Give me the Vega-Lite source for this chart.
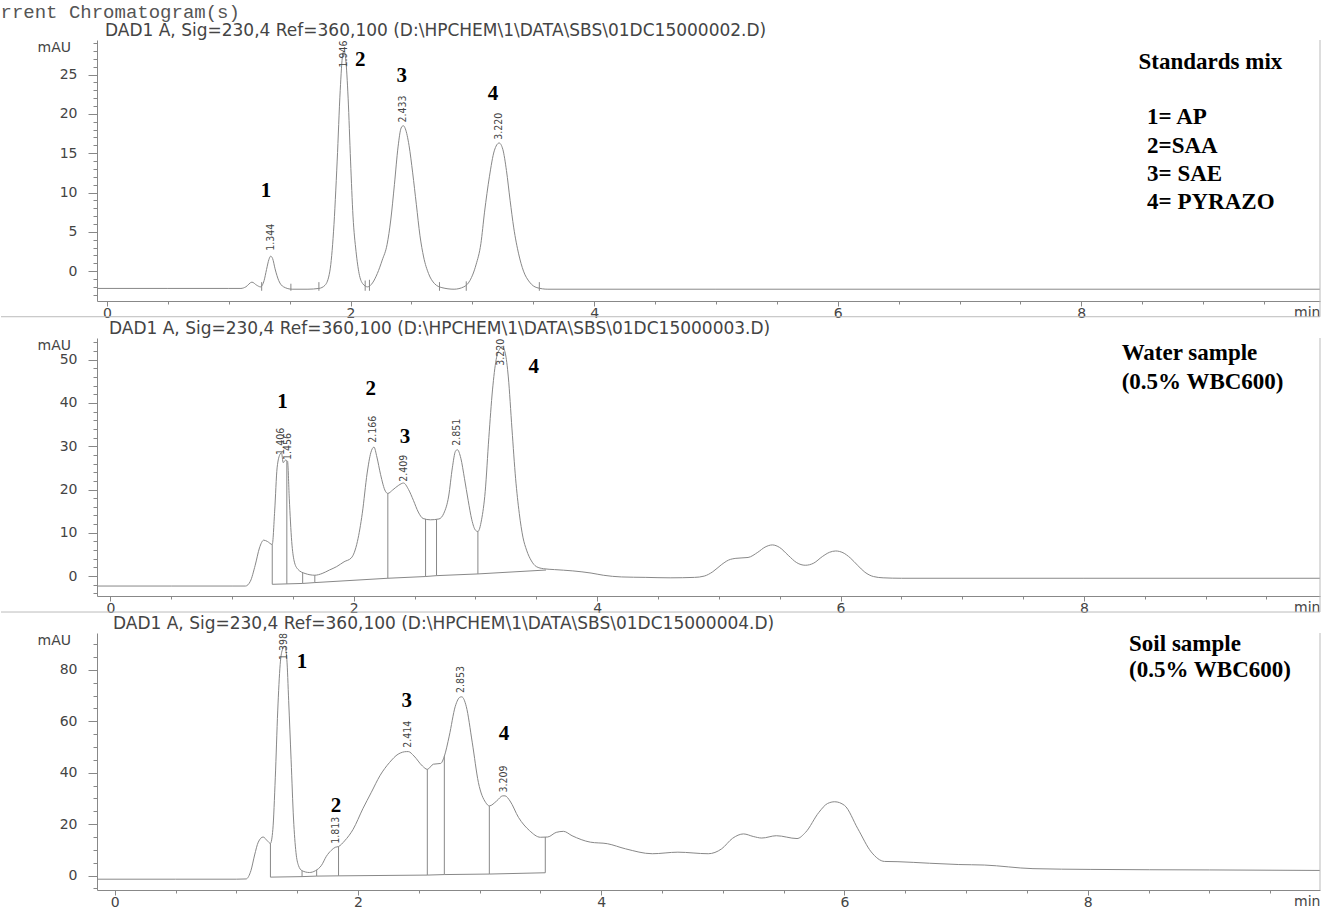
{
  "$schema": "https://vega.github.io/schema/vega-lite/v6.json",
  "background": "white",
  "padding": {"left": 0, "top": 2, "right": 0, "bottom": 0},
  "title": {"text": "rrent Chromatogram(s)", "anchor": "start", "frame": "bounds", "font": "Liberation Mono", "fontSize": 19, "fontWeight": "normal", "color": "#555", "offset": 0},
  "spacing": -1,
  "datasets": {
    "curves": [
      {"p":"std","t":-0.082,"y":-2.2},{"p":"std","t":0.5,"y":-2.2},{"p":"std","t":1.0,"y":-2.2},{"p":"std","t":1.10,"y":-2.2},{"p":"std","t":1.14,"y":-2.0},{"p":"std","t":1.19,"y":-1.4},{"p":"std","t":1.23,"y":-1.8},{"p":"std","t":1.26,"y":-2.0},{"p":"std","t":1.29,"y":-1.2},{"p":"std","t":1.31,"y":0.2},{"p":"std","t":1.33,"y":1.5},{"p":"std","t":1.344,"y":1.9},{"p":"std","t":1.36,"y":1.6},{"p":"std","t":1.38,"y":0.3},{"p":"std","t":1.41,"y":-1.2},{"p":"std","t":1.45,"y":-2.0},{"p":"std","t":1.52,"y":-2.3},{"p":"std","t":1.65,"y":-2.3},{"p":"std","t":1.74,"y":-2.2},{"p":"std","t":1.79,"y":-1.8},{"p":"std","t":1.83,"y":0.0},{"p":"std","t":1.86,"y":5},{"p":"std","t":1.89,"y":14},{"p":"std","t":1.915,"y":23},{"p":"std","t":1.935,"y":27.5},{"p":"std","t":1.946,"y":28},{"p":"std","t":1.96,"y":27},{"p":"std","t":1.98,"y":22},{"p":"std","t":2.00,"y":14},{"p":"std","t":2.02,"y":7},{"p":"std","t":2.045,"y":2.5},{"p":"std","t":2.07,"y":-0.3},{"p":"std","t":2.10,"y":-1.6},{"p":"std","t":2.14,"y":-2.0},{"p":"std","t":2.18,"y":-1.5},{"p":"std","t":2.22,"y":-0.3},{"p":"std","t":2.26,"y":1.4},{"p":"std","t":2.30,"y":3.4},{"p":"std","t":2.33,"y":6.5},{"p":"std","t":2.36,"y":11},{"p":"std","t":2.39,"y":15.8},{"p":"std","t":2.415,"y":18.2},{"p":"std","t":2.433,"y":18.5},{"p":"std","t":2.45,"y":18.1},{"p":"std","t":2.48,"y":16},{"p":"std","t":2.51,"y":12.5},{"p":"std","t":2.54,"y":8.5},{"p":"std","t":2.57,"y":4.5},{"p":"std","t":2.60,"y":1.8},{"p":"std","t":2.64,"y":-0.3},{"p":"std","t":2.69,"y":-1.6},{"p":"std","t":2.75,"y":-2.1},{"p":"std","t":2.85,"y":-2.3},{"p":"std","t":2.93,"y":-2.0},{"p":"std","t":2.98,"y":-1.2},{"p":"std","t":3.03,"y":0.8},{"p":"std","t":3.07,"y":3.5},{"p":"std","t":3.10,"y":7.5},{"p":"std","t":3.14,"y":12},{"p":"std","t":3.18,"y":15.3},{"p":"std","t":3.22,"y":16.3},{"p":"std","t":3.25,"y":15.5},{"p":"std","t":3.28,"y":12.8},{"p":"std","t":3.31,"y":9},{"p":"std","t":3.34,"y":5.5},{"p":"std","t":3.38,"y":2.2},{"p":"std","t":3.42,"y":0},{"p":"std","t":3.47,"y":-1.4},{"p":"std","t":3.53,"y":-2.1},{"p":"std","t":3.62,"y":-2.3},{"p":"std","t":5,"y":-2.3},{"p":"std","t":9.96,"y":-2.3},
      {"p":"water","t":-0.11,"y":-2.3},{"p":"water","t":0.5,"y":-2.3},{"p":"water","t":1.0,"y":-2.3},{"p":"water","t":1.11,"y":-2.3},{"p":"water","t":1.15,"y":-1.2},{"p":"water","t":1.19,"y":2.5},{"p":"water","t":1.225,"y":6.5},{"p":"water","t":1.26,"y":8.3},{"p":"water","t":1.29,"y":8.0},{"p":"water","t":1.33,"y":7.3},{"p":"water","t":1.35,"y":15},{"p":"water","t":1.37,"y":25},{"p":"water","t":1.395,"y":28.2},{"p":"water","t":1.406,"y":28.5},{"p":"water","t":1.42,"y":26.2},{"p":"water","t":1.44,"y":26.8},{"p":"water","t":1.456,"y":26.5},{"p":"water","t":1.47,"y":18},{"p":"water","t":1.49,"y":8},{"p":"water","t":1.51,"y":3.5},{"p":"water","t":1.54,"y":1.6},{"p":"water","t":1.60,"y":0.6},{"p":"water","t":1.68,"y":0.2},{"p":"water","t":1.74,"y":0.6},{"p":"water","t":1.80,"y":1.4},{"p":"water","t":1.86,"y":2.2},{"p":"water","t":1.92,"y":3.3},{"p":"water","t":1.98,"y":4.2},{"p":"water","t":2.03,"y":8},{"p":"water","t":2.07,"y":14.5},{"p":"water","t":2.11,"y":23.8},{"p":"water","t":2.14,"y":28.5},{"p":"water","t":2.166,"y":29.8},{"p":"water","t":2.19,"y":27.5},{"p":"water","t":2.22,"y":23.5},{"p":"water","t":2.26,"y":19.6},{"p":"water","t":2.28,"y":19.1},{"p":"water","t":2.32,"y":19.9},{"p":"water","t":2.37,"y":21},{"p":"water","t":2.409,"y":21.5},{"p":"water","t":2.45,"y":20},{"p":"water","t":2.49,"y":17.5},{"p":"water","t":2.53,"y":14.8},{"p":"water","t":2.57,"y":13.3},{"p":"water","t":2.63,"y":13},{"p":"water","t":2.70,"y":13.2},{"p":"water","t":2.74,"y":14.5},{"p":"water","t":2.78,"y":18.5},{"p":"water","t":2.81,"y":25},{"p":"water","t":2.835,"y":28.8},{"p":"water","t":2.851,"y":29.2},{"p":"water","t":2.88,"y":27.2},{"p":"water","t":2.91,"y":22.5},{"p":"water","t":2.94,"y":17.5},{"p":"water","t":2.97,"y":13},{"p":"water","t":3.00,"y":10.6},{"p":"water","t":3.02,"y":10.3},{"p":"water","t":3.05,"y":13},{"p":"water","t":3.08,"y":19.5},{"p":"water","t":3.11,"y":32},{"p":"water","t":3.14,"y":43},{"p":"water","t":3.17,"y":50},{"p":"water","t":3.20,"y":52.5},{"p":"water","t":3.22,"y":53},{"p":"water","t":3.245,"y":51.5},{"p":"water","t":3.27,"y":46},{"p":"water","t":3.30,"y":34},{"p":"water","t":3.33,"y":22.5},{"p":"water","t":3.36,"y":14.5},{"p":"water","t":3.39,"y":9},{"p":"water","t":3.42,"y":6},{"p":"water","t":3.46,"y":3.5},{"p":"water","t":3.50,"y":2.2},{"p":"water","t":3.56,"y":1.7},{"p":"water","t":3.65,"y":1.5},{"p":"water","t":3.80,"y":1.2},{"p":"water","t":3.95,"y":0.7},{"p":"water","t":4.05,"y":0.2},{"p":"water","t":4.2,"y":-0.2},{"p":"water","t":4.4,"y":-0.3},{"p":"water","t":4.6,"y":-0.4},{"p":"water","t":4.8,"y":-0.3},{"p":"water","t":4.88,"y":0.0},{"p":"water","t":4.95,"y":1.0},{"p":"water","t":5.02,"y":2.6},{"p":"water","t":5.08,"y":3.7},{"p":"water","t":5.14,"y":4.1},{"p":"water","t":5.24,"y":4.3},{"p":"water","t":5.32,"y":5.5},{"p":"water","t":5.38,"y":6.7},{"p":"water","t":5.44,"y":7.2},{"p":"water","t":5.50,"y":6.6},{"p":"water","t":5.57,"y":4.8},{"p":"water","t":5.64,"y":3.1},{"p":"water","t":5.71,"y":2.5},{"p":"water","t":5.78,"y":3.0},{"p":"water","t":5.85,"y":4.5},{"p":"water","t":5.91,"y":5.5},{"p":"water","t":5.96,"y":5.8},{"p":"water","t":6.02,"y":5.4},{"p":"water","t":6.08,"y":4.2},{"p":"water","t":6.14,"y":2.5},{"p":"water","t":6.20,"y":0.9},{"p":"water","t":6.27,"y":-0.1},{"p":"water","t":6.35,"y":-0.4},{"p":"water","t":6.5,"y":-0.5},{"p":"water","t":8,"y":-0.5},{"p":"water","t":9.94,"y":-0.5},
      {"p":"soil","t":-0.146,"y":-1.4},{"p":"soil","t":0.5,"y":-1.4},{"p":"soil","t":1.0,"y":-1.4},{"p":"soil","t":1.08,"y":-1.3},{"p":"soil","t":1.12,"y":2},{"p":"soil","t":1.15,"y":8},{"p":"soil","t":1.18,"y":13},{"p":"soil","t":1.22,"y":15},{"p":"soil","t":1.255,"y":13.5},{"p":"soil","t":1.28,"y":12.5},{"p":"soil","t":1.30,"y":18},{"p":"soil","t":1.32,"y":38},{"p":"soil","t":1.34,"y":64},{"p":"soil","t":1.36,"y":82},{"p":"soil","t":1.38,"y":88},{"p":"soil","t":1.398,"y":89},{"p":"soil","t":1.415,"y":84},{"p":"soil","t":1.43,"y":68},{"p":"soil","t":1.45,"y":45},{"p":"soil","t":1.47,"y":22},{"p":"soil","t":1.49,"y":9},{"p":"soil","t":1.51,"y":4},{"p":"soil","t":1.54,"y":1.9},{"p":"soil","t":1.60,"y":1.2},{"p":"soil","t":1.65,"y":1.9},{"p":"soil","t":1.70,"y":4},{"p":"soil","t":1.74,"y":7.5},{"p":"soil","t":1.78,"y":9.8},{"p":"soil","t":1.813,"y":11},{"p":"soil","t":1.84,"y":11.3},{"p":"soil","t":1.89,"y":13.5},{"p":"soil","t":1.96,"y":18},{"p":"soil","t":2.04,"y":26},{"p":"soil","t":2.11,"y":32.4},{"p":"soil","t":2.18,"y":38.8},{"p":"soil","t":2.26,"y":44},{"p":"soil","t":2.33,"y":47.2},{"p":"soil","t":2.40,"y":48.2},{"p":"soil","t":2.414,"y":48.2},{"p":"soil","t":2.46,"y":46.5},{"p":"soil","t":2.53,"y":42.6},{"p":"soil","t":2.57,"y":41.3},{"p":"soil","t":2.62,"y":43.3},{"p":"soil","t":2.68,"y":43.6},{"p":"soil","t":2.71,"y":46.4},{"p":"soil","t":2.75,"y":54.2},{"p":"soil","t":2.80,"y":65.8},{"p":"soil","t":2.84,"y":69.4},{"p":"soil","t":2.853,"y":69.5},{"p":"soil","t":2.89,"y":65.8},{"p":"soil","t":2.94,"y":51.6},{"p":"soil","t":2.99,"y":36.2},{"p":"soil","t":3.05,"y":28.4},{"p":"soil","t":3.08,"y":27.1},{"p":"soil","t":3.14,"y":29},{"p":"soil","t":3.19,"y":31},{"p":"soil","t":3.209,"y":31},{"p":"soil","t":3.25,"y":29},{"p":"soil","t":3.32,"y":22.6},{"p":"soil","t":3.41,"y":17.5},{"p":"soil","t":3.50,"y":14.9},{"p":"soil","t":3.56,"y":15},{"p":"soil","t":3.63,"y":16.8},{"p":"soil","t":3.69,"y":17.2},{"p":"soil","t":3.76,"y":15.5},{"p":"soil","t":3.91,"y":13},{"p":"soil","t":4.05,"y":12.4},{"p":"soil","t":4.2,"y":10.4},{"p":"soil","t":4.42,"y":8.5},{"p":"soil","t":4.63,"y":9.1},{"p":"soil","t":4.88,"y":8.5},{"p":"soil","t":4.99,"y":10.4},{"p":"soil","t":5.08,"y":14.5},{"p":"soil","t":5.17,"y":16.2},{"p":"soil","t":5.25,"y":15.2},{"p":"soil","t":5.32,"y":14.6},{"p":"soil","t":5.44,"y":15.5},{"p":"soil","t":5.61,"y":14.4},{"p":"soil","t":5.68,"y":16.8},{"p":"soil","t":5.79,"y":24.6},{"p":"soil","t":5.86,"y":28},{"p":"soil","t":5.92,"y":28.7},{"p":"soil","t":6.0,"y":27.3},{"p":"soil","t":6.11,"y":18.2},{"p":"soil","t":6.22,"y":9.2},{"p":"soil","t":6.33,"y":5.5},{"p":"soil","t":6.44,"y":5.4},{"p":"soil","t":6.7,"y":4.8},{"p":"soil","t":6.94,"y":4.3},{"p":"soil","t":7.15,"y":4.1},{"p":"soil","t":7.55,"y":2.7},{"p":"soil","t":8.02,"y":2.4},{"p":"soil","t":9.0,"y":2.2},{"p":"soil","t":9.91,"y":2.0}
    ],
    "baselines": [
      {"p":"water","t":1.33,"y":-1.9},{"p":"water","t":1.58,"y":-1.7},{"p":"water","t":1.68,"y":-1.5},{"p":"water","t":2.28,"y":-0.5},{"p":"water","t":2.59,"y":-0.1},{"p":"water","t":2.68,"y":0.1},{"p":"water","t":3.02,"y":0.5},{"p":"water","t":3.58,"y":1.4},
      {"p":"soil","t":1.28,"y":-0.6},{"p":"soil","t":1.54,"y":-0.4},{"p":"soil","t":1.66,"y":-0.2},{"p":"soil","t":1.84,"y":-0.1},{"p":"soil","t":2.57,"y":0.2},{"p":"soil","t":2.71,"y":0.4},{"p":"soil","t":3.08,"y":0.6},{"p":"soil","t":3.54,"y":1.1}
    ],
    "drops": [
      {"p":"std","t":1.27,"y0":-2.5,"y1":-1.4},{"p":"std","t":1.51,"y0":-2.5,"y1":-1.6},{"p":"std","t":1.74,"y0":-2.5,"y1":-1.4},{"p":"std","t":2.12,"y0":-2.5,"y1":-1.2},{"p":"std","t":2.155,"y0":-2.5,"y1":-1.1},{"p":"std","t":2.73,"y0":-2.5,"y1":-1.4},{"p":"std","t":2.95,"y0":-2.5,"y1":-1.3},{"p":"std","t":3.55,"y0":-2.5,"y1":-1.4},
      {"p":"water","t":1.33,"y0":-1.9,"y1":7.3},{"p":"water","t":1.45,"y0":-1.8,"y1":26.6},{"p":"water","t":1.58,"y0":-1.7,"y1":0.8},{"p":"water","t":1.68,"y0":-1.5,"y1":0.2},{"p":"water","t":2.28,"y0":-0.5,"y1":19.1},{"p":"water","t":2.59,"y0":-0.1,"y1":13.2},{"p":"water","t":2.68,"y0":0.1,"y1":13.1},{"p":"water","t":3.02,"y0":0.5,"y1":10.3},
      {"p":"soil","t":1.28,"y0":-0.6,"y1":12.5},{"p":"soil","t":1.54,"y0":-0.4,"y1":1.9},{"p":"soil","t":1.66,"y0":-0.2,"y1":2.2},{"p":"soil","t":1.84,"y0":-0.1,"y1":11.3},{"p":"soil","t":2.57,"y0":0.2,"y1":41.3},{"p":"soil","t":2.71,"y0":0.4,"y1":46.4},{"p":"soil","t":3.08,"y0":0.6,"y1":27.1},{"p":"soil","t":3.54,"y0":1.1,"y1":15}
    ],
    "rt": [
      {"p":"std","t":1.344,"y":2.6,"label":"1.344"},{"p":"std","t":1.946,"y":25.9,"label":"1.946"},{"p":"std","t":2.433,"y":18.9,"label":"2.433"},{"p":"std","t":3.22,"y":16.7,"label":"3.220"},
      {"p":"water","t":1.40,"y":28,"label":"1.406"},{"p":"water","t":1.456,"y":26.8,"label":"1.456"},{"p":"water","t":2.157,"y":30.8,"label":"2.166"},{"p":"water","t":2.41,"y":21.8,"label":"2.409"},{"p":"water","t":2.85,"y":30.1,"label":"2.851"},{"p":"water","t":3.21,"y":48.6,"label":"3.220"},
      {"p":"soil","t":1.39,"y":83.8,"label":"1.398"},{"p":"soil","t":1.82,"y":12.4,"label":"1.813"},{"p":"soil","t":2.41,"y":49.7,"label":"2.414"},{"p":"soil","t":2.85,"y":71,"label":"2.853"},{"p":"soil","t":3.2,"y":32.3,"label":"3.209"}
    ],
    "peaks": [
      {"p":"std","t":1.306,"y":10.2,"label":"1"},{"p":"std","t":2.08,"y":26.8,"label":"2"},{"p":"std","t":2.42,"y":24.8,"label":"3"},{"p":"std","t":3.17,"y":22.5,"label":"4"},
      {"p":"water","t":1.415,"y":40.3,"label":"1"},{"p":"water","t":2.14,"y":43.3,"label":"2"},{"p":"water","t":2.42,"y":32.2,"label":"3"},{"p":"water","t":3.48,"y":48.4,"label":"4"},
      {"p":"soil","t":1.54,"y":83.2,"label":"1"},{"p":"soil","t":1.82,"y":27.2,"label":"2"},{"p":"soil","t":2.40,"y":67.8,"label":"3"},{"p":"soil","t":3.20,"y":54.9,"label":"4"}
    ],
    "legend": [
      {"p":"std","t":8.47,"y":26.6,"label":"Standards mix"},{"p":"std","t":8.54,"y":19.6,"label":"1= AP"},{"p":"std","t":8.54,"y":15.9,"label":"2=SAA"},{"p":"std","t":8.54,"y":12.4,"label":"3= SAE"},{"p":"std","t":8.54,"y":8.8,"label":"4= PYRAZO"},
      {"p":"water","t":8.31,"y":51.6,"label":"Water sample"},{"p":"water","t":8.31,"y":44.9,"label":"(0.5% WBC600)"},
      {"p":"soil","t":8.34,"y":90.0,"label":"Soil sample"},{"p":"soil","t":8.34,"y":80.0,"label":"(0.5% WBC600)"}
    ],
    "frames": [
      {"p":"std","t":-0.870,"t2":9.96,"y":-5.8,"y2":-5.8},{"p":"std","t":9.96,"t2":9.96,"y":-5.8,"y2":29.4},
      {"p":"water","t":-0.899,"t2":9.94,"y":-8.3,"y2":-8.3},{"p":"water","t":9.94,"t2":9.94,"y":-8.3,"y2":55},
      {"p":"soil","t":9.91,"t2":9.91,"y":-5.6,"y2":94.3}
    ]
  },
  "vconcat": [
    {
      "width": 1223, "height": 261,
      "title": {"text": "DAD1 A, Sig=230,4 Ref=360,100 (D:\\HPCHEM\\1\\DATA\\SBS\\01DC15000002.D)", "anchor": "start", "frame": "group", "dx": 8, "offset": 0, "font": "DejaVu Sans", "fontSize": 17, "fontWeight": "normal", "color": "#444"},
      "resolve": {"axis": {"x": "independent", "y": "independent"}},
      "layer": [
        {"data": {"name": "curves"}, "transform": [{"filter": "datum.p === 'std'"}],
         "mark": {"type": "line", "interpolate": "monotone", "color": "#888", "strokeWidth": 1},
         "encoding": {
           "x": {"field": "t", "type": "quantitative", "scale": {"domain": [-0.082, 9.96], "nice": false, "zero": false},
                 "axis": {"orient": "bottom", "values": [0,2,4,6,8], "format": "d", "tickSize": 5, "labelPadding": 0, "labelFlush": false, "title": "min", "titleX": 1223, "titleY": 11, "titleAlign": "right", "titleBaseline": "middle"}},
           "y": {"field": "y", "type": "quantitative", "scale": {"domain": [-3.8, 29.4], "nice": false, "zero": false},
                 "axis": {"orient": "left", "values": [0,5,10,15,20,25], "format": "d", "tickSize": 9, "labelPadding": 11, "labelFlush": false, "title": "mAU", "titleAngle": 0, "titleAlign": "left", "titleBaseline": "top", "titleX": -60, "titleY": 0}}
         }},
        {"data": {"name": "frames"}, "transform": [{"filter": "datum.p === 'std'"}],
         "mark": {"type": "rule", "color": "#bbb", "strokeWidth": 1},
         "encoding": {"x": {"field": "t", "type": "quantitative", "axis": {"orient": "bottom", "values": [0.5,1,1.5,2.5,3,3.5,4.5,5,5.5,6.5,7,7.5,8.5,9,9.5], "labels": false, "domain": false, "tickSize": 3, "title": null}}, "x2": {"field": "t2"}, "y": {"field": "y", "type": "quantitative", "axis": {"orient": "left", "values": [-3,-2,-1,1,2,3,4,6,7,8,9,11,12,13,14,16,17,18,19,21,22,23,24,26,27,28,29], "labels": false, "domain": false, "tickSize": 4, "title": null}}, "y2": {"field": "y2"}}},
        {"data": {"name": "drops"}, "transform": [{"filter": "datum.p === 'std'"}],
         "mark": {"type": "rule", "color": "#888", "strokeWidth": 1},
         "encoding": {"x": {"field": "t", "type": "quantitative", "axis": null}, "y": {"field": "y0", "type": "quantitative", "axis": null}, "y2": {"field": "y1"}}},
        {"data": {"name": "rt"}, "transform": [{"filter": "datum.p === 'std'"}],
         "mark": {"type": "text", "angle": 270, "align": "left", "baseline": "middle", "font": "DejaVu Sans Condensed, DejaVu Sans, sans-serif", "fontSize": 10.5, "color": "#444"},
         "encoding": {"x": {"field": "t", "type": "quantitative", "axis": null}, "y": {"field": "y", "type": "quantitative", "axis": null}, "text": {"field": "label"}}},
        {"data": {"name": "peaks"}, "transform": [{"filter": "datum.p === 'std'"}],
         "mark": {"type": "text", "align": "center", "baseline": "middle", "font": "Liberation Serif", "fontWeight": "bold", "fontSize": 21, "color": "#000"},
         "encoding": {"x": {"field": "t", "type": "quantitative", "axis": null}, "y": {"field": "y", "type": "quantitative", "axis": null}, "text": {"field": "label"}}},
        {"data": {"name": "legend"}, "transform": [{"filter": "datum.p === 'std'"}],
         "mark": {"type": "text", "align": "left", "baseline": "middle", "font": "Liberation Serif", "fontWeight": "bold", "fontSize": 23, "color": "#000"},
         "encoding": {"x": {"field": "t", "type": "quantitative", "axis": null}, "y": {"field": "y", "type": "quantitative", "axis": null}, "text": {"field": "label"}}}
      ]
    },
    {
      "width": 1223, "height": 258,
      "title": {"text": "DAD1 A, Sig=230,4 Ref=360,100 (D:\\HPCHEM\\1\\DATA\\SBS\\01DC15000003.D)", "anchor": "start", "frame": "group", "dx": 12, "offset": 0, "font": "DejaVu Sans", "fontSize": 17, "fontWeight": "normal", "color": "#444"},
      "resolve": {"axis": {"x": "independent", "y": "independent"}},
      "layer": [
        {"data": {"name": "curves"}, "transform": [{"filter": "datum.p === 'water'"}],
         "mark": {"type": "line", "interpolate": "monotone", "color": "#888", "strokeWidth": 1},
         "encoding": {
           "x": {"field": "t", "type": "quantitative", "scale": {"domain": [-0.11, 9.94], "nice": false, "zero": false},
                 "axis": {"orient": "bottom", "values": [0,2,4,6,8], "format": "d", "tickSize": 5, "labelPadding": 0, "labelFlush": false, "title": "min", "titleX": 1223, "titleY": 11, "titleAlign": "right", "titleBaseline": "middle"}},
           "y": {"field": "y", "type": "quantitative", "scale": {"domain": [-4.6, 55], "nice": false, "zero": false},
                 "axis": {"orient": "left", "values": [0,10,20,30,40,50], "format": "d", "tickSize": 9, "labelPadding": 11, "labelFlush": false, "title": "mAU", "titleAngle": 0, "titleAlign": "left", "titleBaseline": "top", "titleX": -60, "titleY": 0}}
         }},
        {"data": {"name": "frames"}, "transform": [{"filter": "datum.p === 'water'"}],
         "mark": {"type": "rule", "color": "#bbb", "strokeWidth": 1},
         "encoding": {"x": {"field": "t", "type": "quantitative", "axis": {"orient": "bottom", "values": [0.5,1,1.5,2.5,3,3.5,4.5,5,5.5,6.5,7,7.5,8.5,9,9.5], "labels": false, "domain": false, "tickSize": 3, "title": null}}, "x2": {"field": "t2"}, "y": {"field": "y", "type": "quantitative", "axis": {"orient": "left", "values": [-4,-2,2,4,6,8,12,14,16,18,22,24,26,28,32,34,36,38,42,44,46,48,52,54], "labels": false, "domain": false, "tickSize": 4, "title": null}}, "y2": {"field": "y2"}}},
        {"data": {"name": "baselines"}, "transform": [{"filter": "datum.p === 'water'"}],
         "mark": {"type": "line", "color": "#888", "strokeWidth": 1},
         "encoding": {"x": {"field": "t", "type": "quantitative", "axis": null}, "y": {"field": "y", "type": "quantitative", "axis": null}}},
        {"data": {"name": "drops"}, "transform": [{"filter": "datum.p === 'water'"}],
         "mark": {"type": "rule", "color": "#888", "strokeWidth": 1},
         "encoding": {"x": {"field": "t", "type": "quantitative", "axis": null}, "y": {"field": "y0", "type": "quantitative", "axis": null}, "y2": {"field": "y1"}}},
        {"data": {"name": "rt"}, "transform": [{"filter": "datum.p === 'water'"}],
         "mark": {"type": "text", "angle": 270, "align": "left", "baseline": "middle", "font": "DejaVu Sans Condensed, DejaVu Sans, sans-serif", "fontSize": 10.5, "color": "#444"},
         "encoding": {"x": {"field": "t", "type": "quantitative", "axis": null}, "y": {"field": "y", "type": "quantitative", "axis": null}, "text": {"field": "label"}}},
        {"data": {"name": "peaks"}, "transform": [{"filter": "datum.p === 'water'"}],
         "mark": {"type": "text", "align": "center", "baseline": "middle", "font": "Liberation Serif", "fontWeight": "bold", "fontSize": 21, "color": "#000"},
         "encoding": {"x": {"field": "t", "type": "quantitative", "axis": null}, "y": {"field": "y", "type": "quantitative", "axis": null}, "text": {"field": "label"}}},
        {"data": {"name": "legend"}, "transform": [{"filter": "datum.p === 'water'"}],
         "mark": {"type": "text", "align": "left", "baseline": "middle", "font": "Liberation Serif", "fontWeight": "bold", "fontSize": 23, "color": "#000"},
         "encoding": {"x": {"field": "t", "type": "quantitative", "axis": null}, "y": {"field": "y", "type": "quantitative", "axis": null}, "text": {"field": "label"}}}
      ]
    },
    {
      "width": 1223, "height": 257,
      "title": {"text": "DAD1 A, Sig=230,4 Ref=360,100 (D:\\HPCHEM\\1\\DATA\\SBS\\01DC15000004.D)", "anchor": "start", "frame": "group", "dx": 16, "offset": 0, "font": "DejaVu Sans", "fontSize": 17, "fontWeight": "normal", "color": "#444"},
      "resolve": {"axis": {"x": "independent", "y": "independent"}},
      "layer": [
        {"data": {"name": "curves"}, "transform": [{"filter": "datum.p === 'soil'"}],
         "mark": {"type": "line", "interpolate": "monotone", "color": "#888", "strokeWidth": 1},
         "encoding": {
           "x": {"field": "t", "type": "quantitative", "scale": {"domain": [-0.146, 9.91], "nice": false, "zero": false},
                 "axis": {"orient": "bottom", "values": [0,2,4,6,8], "format": "d", "tickSize": 5, "labelPadding": 0, "labelFlush": false, "title": "min", "titleX": 1223, "titleY": 11, "titleAlign": "right", "titleBaseline": "middle"}},
           "y": {"field": "y", "type": "quantitative", "scale": {"domain": [-5.6, 94.3], "nice": false, "zero": false},
                 "axis": {"orient": "left", "values": [0,20,40,60,80], "format": "d", "tickSize": 9, "labelPadding": 11, "labelFlush": false, "title": "mAU", "titleAngle": 0, "titleAlign": "left", "titleBaseline": "top", "titleX": -60, "titleY": 0}}
         }},
        {"data": {"name": "frames"}, "transform": [{"filter": "datum.p === 'soil'"}],
         "mark": {"type": "rule", "color": "#bbb", "strokeWidth": 1},
         "encoding": {"x": {"field": "t", "type": "quantitative", "axis": {"orient": "bottom", "values": [0.5,1,1.5,2.5,3,3.5,4.5,5,5.5,6.5,7,7.5,8.5,9,9.5], "labels": false, "domain": false, "tickSize": 3, "title": null}}, "x2": {"field": "t2"}, "y": {"field": "y", "type": "quantitative", "axis": {"orient": "left", "values": [-5,5,10,15,25,30,35,45,50,55,65,70,75,85,90], "labels": false, "domain": false, "tickSize": 4, "title": null}}, "y2": {"field": "y2"}}},
        {"data": {"name": "baselines"}, "transform": [{"filter": "datum.p === 'soil'"}],
         "mark": {"type": "line", "color": "#888", "strokeWidth": 1},
         "encoding": {"x": {"field": "t", "type": "quantitative", "axis": null}, "y": {"field": "y", "type": "quantitative", "axis": null}}},
        {"data": {"name": "drops"}, "transform": [{"filter": "datum.p === 'soil'"}],
         "mark": {"type": "rule", "color": "#888", "strokeWidth": 1},
         "encoding": {"x": {"field": "t", "type": "quantitative", "axis": null}, "y": {"field": "y0", "type": "quantitative", "axis": null}, "y2": {"field": "y1"}}},
        {"data": {"name": "rt"}, "transform": [{"filter": "datum.p === 'soil'"}],
         "mark": {"type": "text", "angle": 270, "align": "left", "baseline": "middle", "font": "DejaVu Sans Condensed, DejaVu Sans, sans-serif", "fontSize": 10.5, "color": "#444"},
         "encoding": {"x": {"field": "t", "type": "quantitative", "axis": null}, "y": {"field": "y", "type": "quantitative", "axis": null}, "text": {"field": "label"}}},
        {"data": {"name": "peaks"}, "transform": [{"filter": "datum.p === 'soil'"}],
         "mark": {"type": "text", "align": "center", "baseline": "middle", "font": "Liberation Serif", "fontWeight": "bold", "fontSize": 21, "color": "#000"},
         "encoding": {"x": {"field": "t", "type": "quantitative", "axis": null}, "y": {"field": "y", "type": "quantitative", "axis": null}, "text": {"field": "label"}}},
        {"data": {"name": "legend"}, "transform": [{"filter": "datum.p === 'soil'"}],
         "mark": {"type": "text", "align": "left", "baseline": "middle", "font": "Liberation Serif", "fontWeight": "bold", "fontSize": 23, "color": "#000"},
         "encoding": {"x": {"field": "t", "type": "quantitative", "axis": null}, "y": {"field": "y", "type": "quantitative", "axis": null}, "text": {"field": "label"}}}
      ]
    }
  ],
  "config": {
    "view": {"stroke": null},
    "axis": {"grid": false, "domainColor": "#888", "tickColor": "#888", "labelColor": "#444", "labelFont": "DejaVu Sans", "labelFontSize": 14, "titleFont": "DejaVu Sans", "titleFontSize": 14, "titleFontWeight": "normal", "titleColor": "#444"}
  }
}
